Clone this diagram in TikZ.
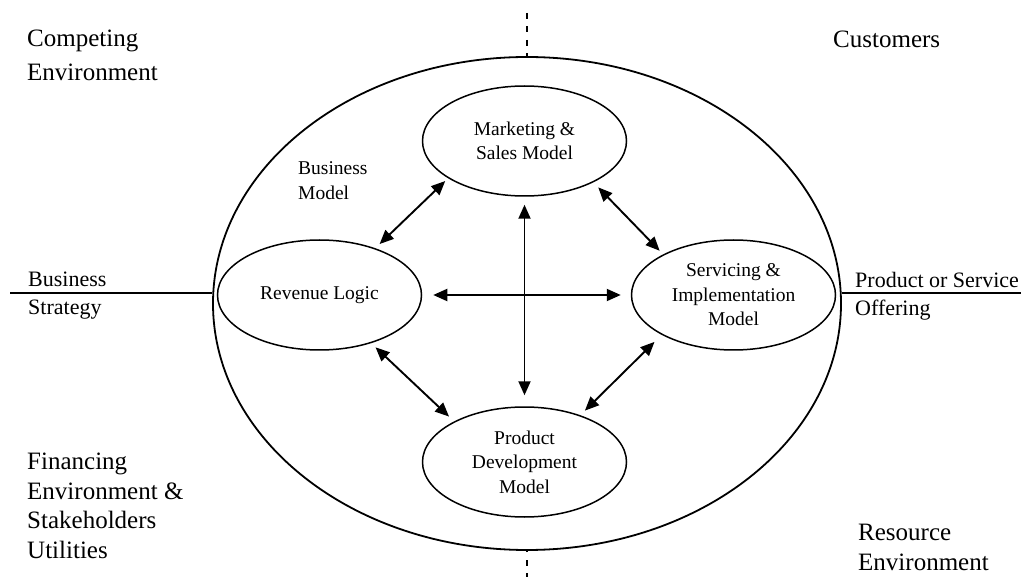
\documentclass[tikz,border=0pt]{standalone}
\usepackage{fontspec}
\setmainfont{Liberation Serif}
\usetikzlibrary{shapes.geometric,arrows.meta}

\begin{document}
\begin{tikzpicture}[x=1pt,y=-1pt,
  part/.style={draw,ellipse,line width=1.5pt,minimum width=204pt,minimum height=110pt,
    inner sep=0pt,align=center,font=\fontsize{19.5}{24.5}\selectfont},
  lbl/.style={inner sep=0pt,anchor=west,align=left},
  big/.style={font=\fontsize{25}{30}\selectfont},
  side/.style={font=\fontsize{22}{28}\selectfont},
  small/.style={font=\fontsize{19.5}{25}\selectfont},
  link/.style={line width=1.9pt,{Triangle[length=14pt,width=12pt]}-{Triangle[length=14pt,width=12pt]}},
  guide/.style={line width=2.2pt,dash pattern=on 6pt off 7.5pt},
  rule/.style={line width=1.8pt}
]
\useasboundingbox (0,0) rectangle (1023,577);

% outer business model boundary
\node[draw,ellipse,line width=1.8pt,minimum width=628pt,minimum height=493pt,inner sep=0pt] (bm) at (527,303.5) {};

% the four components
\node[part] (mkt) at (524.5,141) {Marketing \&\\Sales Model};
\node[part] (rev) at (319.5,295) {Revenue Logic};
\node[part] (srv) at (733.5,295) {Servicing \&\\Implementation\\Model};
\node[part] (prd) at (524.5,462) {Product\\Development\\Model};

% surrounding labels
\node[lbl,font=\fontsize{25}{34}\selectfont] (comp) at (27,55) {Competing\\Environment};
\node[lbl,big] (cust) at (833,39) {Customers};
\node[lbl,font=\fontsize{25}{29.5}\selectfont] (fin) at (27,506) {Financing\\Environment \&\\Stakeholders\\Utilities};
\node[lbl,big] (res) at (858,547) {Resource\\Environment};
\node[lbl,side] (strat) at (28,296) {Business\\Strategy};
\node[lbl,side] (offer) at (855,296) {Product or Service\\Offering};
\node[lbl,small] (bmod) at (298,180.5) {Business\\Model};

% axes through the boundary
\coordinate (lend) at (10,293);
\coordinate (rend) at (1021,293);
\coordinate (ttop) at (527,13);
\coordinate (tbot) at (527,577);
\draw[rule] (lend) -- (lend -| bm.west);
\draw[rule] (bm.east |- rend) -- (rend);
\draw[guide] (ttop) -- (bm.north);
\draw[guide,dash phase=2pt] (tbot) -- (bm.south);

% interactions between components
\draw[link,shorten <=6pt,shorten >=4pt] (rev.40) -- (mkt.206.5);
\draw[link,shorten <=7pt,shorten >=5pt] (mkt.-31.7) -- (srv.150.5);
\draw[link,shorten <=8pt,shorten >=11pt] (mkt.south) -- (prd.north);
\draw[link,shorten <=11pt,shorten >=10pt] (rev.east) -- (srv.west);
\draw[link,shorten <=6pt,shorten >=7pt] (rev.-43.5) -- (prd.150.5);
\draw[link,shorten <=6.5pt,shorten >=10pt] (prd.40.5) -- (srv.209.4);
\end{tikzpicture}
\end{document}
